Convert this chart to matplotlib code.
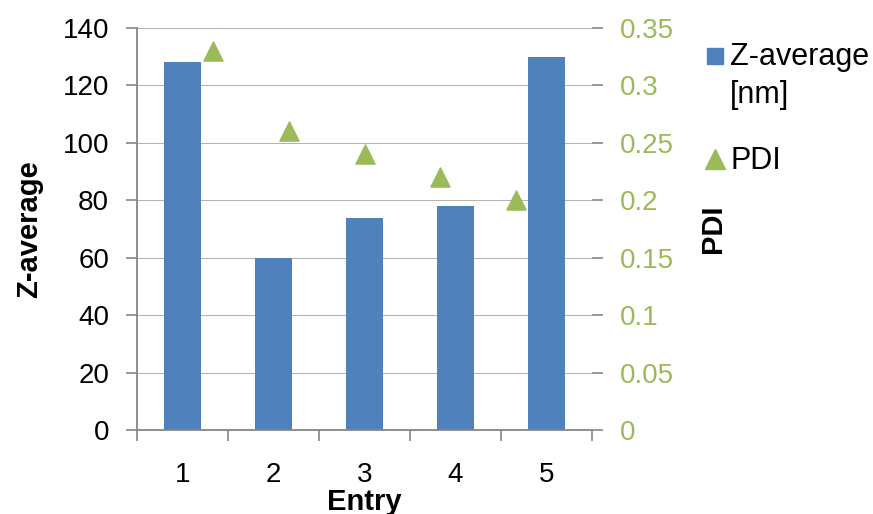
import matplotlib
matplotlib.use("Agg")
import matplotlib.pyplot as plt
from matplotlib.lines import Line2D
from matplotlib.legend_handler import HandlerLine2D

plt.rcParams['font.family'] = ['Liberation Sans', 'DejaVu Sans']

entries = ["1", "2", "3", "4", "5"]
z_average = [128, 60, 74, 78, 130]
pdi = [0.33, 0.26, 0.24, 0.22, 0.20]

blue = "#4F81BD"
green = "#9BBB59"
gray = "#868686"
grid_gray = "#B4B4B4"
fs = 20

fig = plt.figure(figsize=(8.73, 5.14), dpi=100)
L, R, T, B = 137/873, 592/873, 1-28/514, 1-430/514
ax = fig.add_axes([L, B, R-L, T-B])
ax2 = fig.add_axes([L, B, R-L, T-B], frameon=False)

xpos = list(range(len(entries)))
ax.set_axisbelow(True)
ax.yaxis.grid(True, color=grid_gray, linewidth=0.75)
ax.bar(xpos, z_average, width=0.4, color=blue, zorder=2)
ax.set_xlim(-0.5, len(entries)-0.5)
ax.set_ylim(0, 140)
ax.set_yticks(range(0, 141, 20))
ax.set_xticks([x - 0.5 for x in range(len(entries)+1)], minor=False)
ax.set_xticklabels([])
ax.set_xticks(xpos, minor=True)
ax.set_xticklabels(entries, minor=True)
ax.tick_params(axis='x', which='major', length=8, width=1.2, color=gray, direction='out')
ax.tick_params(axis='x', which='minor', length=0, pad=23, labelsize=fs)
ax.tick_params(axis='y', length=8, width=1.2, color=gray, direction='out', labelsize=fs, pad=12)
for s in ['top', 'right']:
    ax.spines[s].set_visible(False)
for s in ['left', 'bottom']:
    ax.spines[s].set_color(gray)
    ax.spines[s].set_linewidth(1.3)
ax.set_ylabel("Z-average", fontsize=21, fontweight='bold', labelpad=14)
ax.set_xlabel("Entry", fontsize=21, fontweight='bold', labelpad=0)

# secondary scatter axis
px = list(range(1, len(pdi)+1))
ax2.scatter(px, pdi, marker='^', s=190, color=green, zorder=3)
ax2.set_xlim(0, 6)
ax2.set_ylim(0, 0.35)
ax2.set_xticks([])
ax2.yaxis.tick_right()
ax2.yaxis.set_label_position('right')
ax2.set_yticks([0, 0.05, 0.1, 0.15, 0.2, 0.25, 0.3, 0.35])
ax2.set_yticklabels(["0", "0.05", "0.1", "0.15", "0.2", "0.25", "0.3", "0.35"])
ax2.tick_params(axis='y', length=8, width=1.2, color=gray, direction='out', labelsize=fs,
                labelcolor=green, pad=12)
ax2.spines['right'].set_visible(True)
ax2.spines['right'].set_color(gray)
ax2.spines['right'].set_linewidth(1.3)
ax2.set_ylabel("PDI", fontsize=21, fontweight='bold', labelpad=18)


class RaisedHandler(HandlerLine2D):
    def __init__(self, shift, **kw):
        super().__init__(**kw)
        self.shift = shift

    def create_artists(self, legend, orig_handle, xdescent, ydescent, width, height,
                       fontsize, trans):
        arts = super().create_artists(legend, orig_handle, xdescent, ydescent, width,
                                      height, fontsize, trans)
        for a in arts:
            a.set_ydata([y + self.shift for y in a.get_ydata()])
        return arts


handles = [Line2D([], [], marker='s', linestyle='none', color=blue, markersize=11),
           Line2D([], [], marker='^', linestyle='none', color=green, markersize=15)]
leg = fig.legend(handles, ["Z-average\n[nm]", "PDI"], loc='upper left',
                 bbox_to_anchor=(0.803, 0.919), frameon=False, fontsize=22,
                 handletextpad=0.05, handlelength=0.9, labelspacing=1.2, borderaxespad=0,
                 borderpad=0,
                 handler_map={handles[0]: RaisedHandler(15)})
leg.get_texts()[0].set_linespacing(1.35)

fig.savefig("out.png", dpi=100)
